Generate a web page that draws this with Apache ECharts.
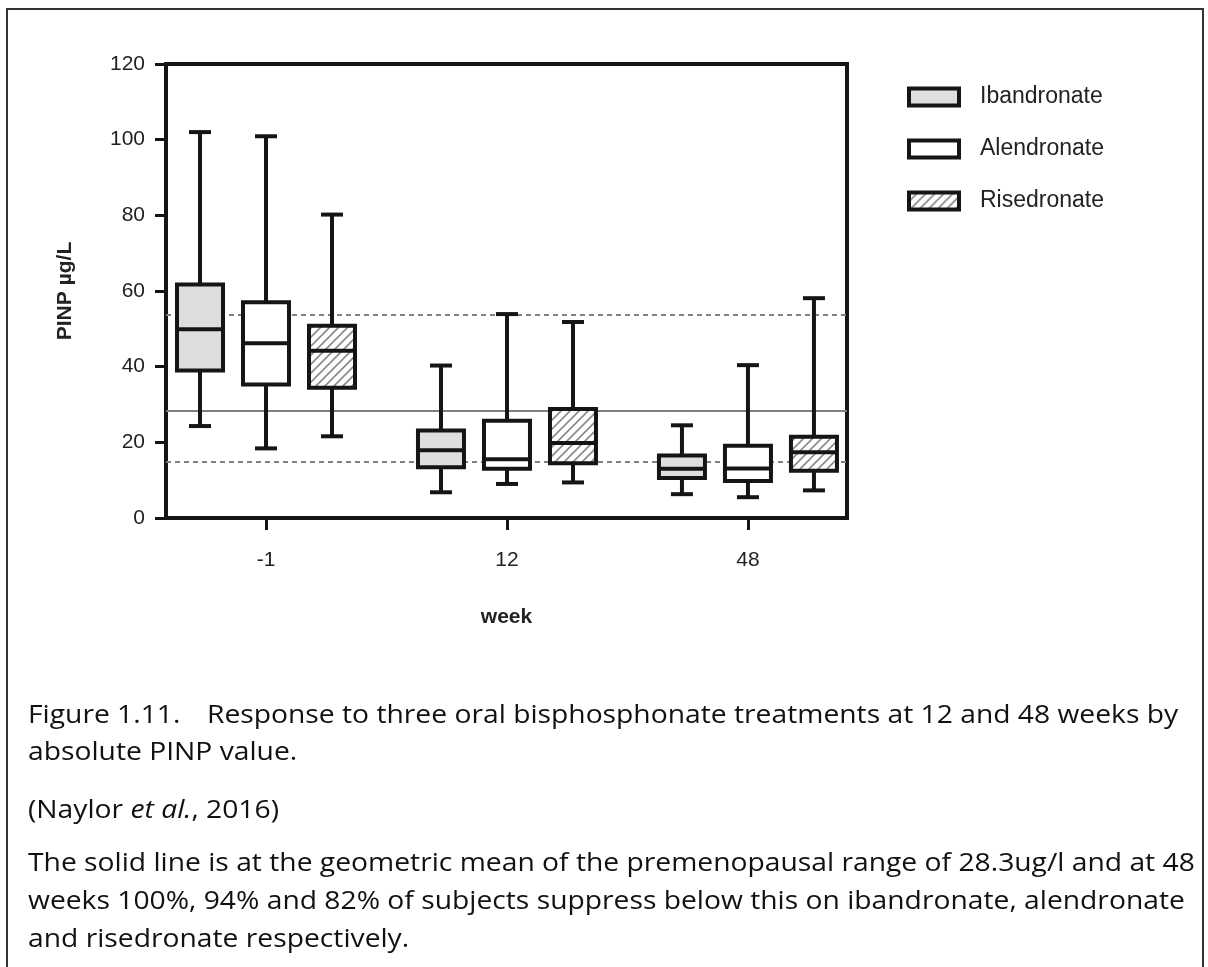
<!DOCTYPE html>
<html><head><meta charset="utf-8">
<script src="https://cdn.jsdelivr.net/npm/echarts@6/dist/echarts.min.js"></script>
<style>html,body{margin:0;padding:0;background:#fff}#chart{width:1208px;height:967px}</style>
</head><body><div id="chart"></div>
<script>
// ---- data ----
const weekLabels = ['-1', '12', '48'];
const treatments = ['Ibandronate', 'Alendronate', 'Risedronate'];
// per week: [min, Q1, median, Q3, max]  (PINP µg/L)
const ibandronate = [[24.3, 39.0, 49.9, 61.7, 102.0], [6.8, 13.4, 17.9, 23.1, 40.3], [6.3, 10.6, 13.0, 16.5, 24.5]];
const alendronate = [[18.4, 35.3, 46.2, 57.0, 100.9], [9.0, 13.0, 15.5, 25.7, 53.9], [5.5, 9.8, 13.1, 19.1, 40.4]];
const risedronate = [[21.6, 34.4, 44.2, 50.8, 80.2], [9.4, 14.5, 19.8, 28.8, 51.8], [7.3, 12.5, 17.4, 21.5, 58.1]];
const refDashed = [53.8, 14.8];   // premenopausal range limits
const refSolid = [28.3];          // geometric mean
const yMin = 0, yMax = 120, yStep = 20;

// ---- styles ----
const INK = '#151515';
const FONT = '"Liberation Sans", Arial, sans-serif';
const CAPFONT = '"Open Sans", Lato, sans-serif';
const CAPSIZE = 25;
const CAPSCALE = 1.13;

function hatchCanvas() {
  const s = 9;
  const c = document.createElement('canvas'); c.width = s; c.height = s;
  const ctx = c.getContext('2d');
  ctx.fillStyle = '#ffffff'; ctx.fillRect(0, 0, s, s);
  ctx.strokeStyle = '#8a8a8a'; ctx.lineWidth = 1.6;
  ctx.beginPath();
  ctx.moveTo(-1, s + 1); ctx.lineTo(s + 1, -1);
  ctx.moveTo(-1, 1); ctx.lineTo(1, -1);
  ctx.moveTo(s - 1, s + 1); ctx.lineTo(s + 1, s - 1);
  ctx.stroke();
  return c;
}
const fills = ['#dedede', '#ffffff', { image: hatchCanvas(), repeat: 'repeat' }];
const seriesValues = [ibandronate, alendronate, risedronate];
const offsetsPx = [-66, 0, 66];
const BOX_HALF = 23, CAP_HALF = 11, LW = 4;

function makeRender(offset) {
  return function (params, api) {
    const g = api.value(0);
    const cx = api.coord([g, 0])[0] + offset;
    const pMin = api.coord([g, api.value(1)])[1];
    const pQ1 = api.coord([g, api.value(2)])[1];
    const pMed = api.coord([g, api.value(3)])[1];
    const pQ3 = api.coord([g, api.value(4)])[1];
    const pMax = api.coord([g, api.value(5)])[1];
    const fill = api.visual('color');
    const ls = { stroke: INK, lineWidth: LW };
    return {
      type: 'group',
      children: [
        { type: 'line', shape: { x1: cx, y1: pMax, x2: cx, y2: pQ3 }, style: ls },
        { type: 'line', shape: { x1: cx - CAP_HALF, y1: pMax, x2: cx + CAP_HALF, y2: pMax }, style: ls },
        { type: 'line', shape: { x1: cx, y1: pQ1, x2: cx, y2: pMin }, style: ls },
        { type: 'line', shape: { x1: cx - CAP_HALF, y1: pMin, x2: cx + CAP_HALF, y2: pMin }, style: ls },
        { type: 'rect', shape: { x: cx - BOX_HALF, y: pQ3, width: BOX_HALF * 2, height: pQ1 - pQ3 },
          style: { fill: fill, stroke: INK, lineWidth: LW } },
        { type: 'line', shape: { x1: cx - BOX_HALF, y1: pMed, x2: cx + BOX_HALF, y2: pMed }, style: ls }
      ]
    };
  };
}

const series = treatments.map((name, i) => ({
  name: name,
  type: 'custom',
  z: 5,
  itemStyle: { color: fills[i] },
  encode: { x: 0, y: [1, 2, 3, 4, 5] },
  renderItem: makeRender(offsetsPx[i]),
  data: seriesValues[i].map((v, g) => [g].concat(v))
}));

series.push({
  type: 'line',
  name: 'ref',
  z: 1,
  data: [],
  silent: true,
  markLine: {
    symbol: 'none',
    silent: true,
    label: { show: false },
    data: refDashed.map(v => ({ yAxis: v, lineStyle: { type: [5, 4], color: '#808080', width: 2 } }))
      .concat(refSolid.map(v => ({ yAxis: v, lineStyle: { type: 'solid', color: '#808080', width: 2 } })))
  }
});

function capText(x, y, style) {
  return { type: 'text', x: x, y: y, scaleX: CAPSCALE, originX: 0, originY: 0,
    style: Object.assign({ font: CAPSIZE + 'px ' + CAPFONT, fill: '#111', textVerticalAlign: 'top' }, style) };
}

const chart = echarts.init(document.getElementById('chart'), null, { renderer: 'canvas' });
chart.setOption({
  animation: false,
  backgroundColor: '#ffffff',
  grid: { left: 166, right: 361, top: 64, bottom: 449, show: true, borderColor: INK, borderWidth: 4, backgroundColor: 'transparent' },
  xAxis: {
    type: 'value',
    min: -0.415, max: 2.411,
    name: 'week',
    nameLocation: 'middle',
    nameGap: 89,
    nameTextStyle: { fontFamily: FONT, fontSize: 21, fontWeight: 'bold', color: '#222' },
    splitLine: { show: false },
    axisLine: { show: true, onZero: false, lineStyle: { color: INK, width: 4 } },
    axisTick: { show: true, length: 12, customValues: [0, 1, 2], lineStyle: { color: INK, width: 3 } },
    axisLabel: {
      customValues: [0, 1, 2],
      margin: 32,
      fontFamily: FONT, fontSize: 21, color: '#222',
      formatter: v => weekLabels[Math.round(v)]
    }
  },
  yAxis: {
    type: 'value',
    min: yMin, max: yMax, interval: yStep,
    name: 'PINP µg/L',
    nameLocation: 'middle',
    nameGap: 90,
    nameTextStyle: { fontFamily: FONT, fontSize: 21, fontWeight: 'bold', color: '#222' },
    splitLine: { show: false },
    axisLine: { show: true, onZero: false, lineStyle: { color: INK, width: 4 } },
    axisTick: { show: true, length: 11, lineStyle: { color: INK, width: 3 } },
    axisLabel: { margin: 21, fontFamily: FONT, fontSize: 21, color: '#222' }
  },
  legend: {
    orient: 'vertical',
    left: 902, top: 80,
    icon: 'rect',
    itemWidth: 50, itemHeight: 17,
    itemGap: 28,
    selectedMode: false,
    itemStyle: { borderColor: INK, borderWidth: 4 },
    textStyle: { fontFamily: FONT, fontSize: 23, color: '#222', lineHeight: 24, padding: [0, 0, 0, 16] },
    data: treatments.map((n, i) => ({ name: n, itemStyle: { color: fills[i], borderColor: INK, borderWidth: 4 } }))
  },
  graphic: [
    { type: 'rect', z: 0, silent: true, shape: { x: 7, y: 9, width: 1196, height: 990 },
      style: { fill: null, stroke: '#333', lineWidth: 2 } },
    capText(28, 703, { text: 'Figure 1.11.' }),
    capText(207, 703, { text: 'Response to three oral bisphosphonate treatments at 12 and 48 weeks by' }),
    capText(28, 740, { text: 'absolute PINP value.' }),
    capText(28, 798, { text: '(Naylor {i|et al.}, 2016)',
      rich: { i: { fontStyle: 'italic', fontFamily: CAPFONT, fontSize: CAPSIZE, fill: '#111' } } }),
    capText(28, 851, { text: 'The solid line is at the geometric mean of the premenopausal range of 28.3ug/l and at 48' }),
    capText(28, 889, { text: 'weeks 100%, 94% and 82% of subjects suppress below this on ibandronate, alendronate' }),
    capText(28, 927, { text: 'and risedronate respectively.' })
  ],
  series: series
});
</script>
</body></html>
